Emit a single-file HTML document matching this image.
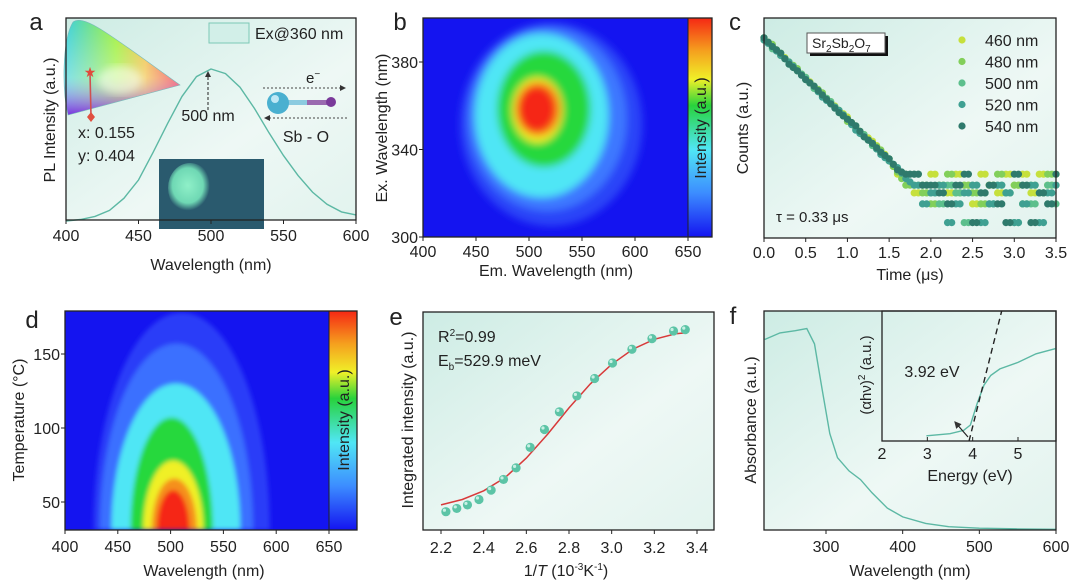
<!DOCTYPE html>
<html><head><meta charset="utf-8">
<style>
html,body{margin:0;padding:0;background:#fff;width:1080px;height:586px;overflow:hidden;}
svg{display:block;font-family:"Liberation Sans",sans-serif;}
text{fill:#222;}
</style></head>
<body>
<svg id="fig" width="1080" height="586" viewBox="0 0 1080 586" xmlns="http://www.w3.org/2000/svg">
<defs>
<linearGradient id="mint" x1="0" y1="0" x2="1" y2="1">
<stop offset="0" stop-color="#cdece4"/><stop offset="0.6" stop-color="#eef8f5"/><stop offset="1" stop-color="#e2f3ee"/>
</linearGradient>
<linearGradient id="jet" x1="0" y1="1" x2="0" y2="0">
<stop offset="0" stop-color="#1414f0"/><stop offset="0.2" stop-color="#3c8cff"/><stop offset="0.4" stop-color="#50e6f5"/><stop offset="0.6" stop-color="#28d23c"/><stop offset="0.72" stop-color="#f0f028"/><stop offset="0.85" stop-color="#f5a01e"/><stop offset="1" stop-color="#f52814"/>
</linearGradient>
<filter id="blur4"><feGaussianBlur stdDeviation="4"/></filter>
<filter id="blur2"><feGaussianBlur stdDeviation="2.5"/></filter>
<linearGradient id="cieg" x1="0" y1="0" x2="1" y2="0">
<stop offset="0" stop-color="#3ad0e0"/><stop offset="0.45" stop-color="#a0f040"/><stop offset="0.7" stop-color="#f0c040"/><stop offset="1" stop-color="#f02040"/>
</linearGradient>
<linearGradient id="ciev" x1="0" y1="0" x2="0" y2="1">
<stop offset="0" stop-color="#ffffff" stop-opacity="0"/><stop offset="0.6" stop-color="#ffffff" stop-opacity="0.35"/><stop offset="1" stop-color="#8020e0" stop-opacity="0.9"/>
</linearGradient>
<radialGradient id="blob" cx="0.45" cy="0.45" r="0.5"><stop offset="0" stop-color="#8ff0c8"/><stop offset="0.7" stop-color="#6fd8b4"/><stop offset="1" stop-color="#6fd8b4" stop-opacity="0"/></radialGradient>
<marker id="arrR" markerWidth="6" markerHeight="6" refX="5" refY="3" orient="auto"><path d="M0,0 L6,3 L0,6 z" fill="#333"/></marker>
</defs>
</svg>
<script>
// ---------- DATA ----------
// panel a
const aWave=[400,410,420,430,440,450,460,470,480,490,500,510,520,530,540,550,560,570,580,590,600];
const aPL=[0.0,0.01,0.03,0.07,0.15,0.27,0.45,0.64,0.82,0.95,1.0,0.97,0.88,0.74,0.58,0.43,0.30,0.19,0.11,0.06,0.04];
const aTicks=[400,450,500,550,600];
// panel b contour bands [emLo, emHi, exLo, exHi]
const bColors=["#2a44f8","#3c78ff","#50e6f5","#28d83c","#f0f028","#f5901e","#f52814"];
const bEmLo=[435,442,449,470,484,487,490];
const bEmHi=[607,592,575,558,532,530,525];
const bExLo=[305,312,318,332,343,346,348];
const bExHi=[398,396,393,385,373,371,369];
const bXTicks=[400,450,500,550,600,650];
const bYTicks=[300,340,380];
// panel c
const cTime=[0,0.1,0.2,0.3,0.4,0.5,0.6,0.7,0.8,0.9,1.0,1.1,1.2,1.3,1.4,1.5,1.6,1.7,1.8,1.9,2.0,2.1,2.2,2.3,2.4,2.5,2.6,2.7,2.8,2.9,3.0,3.1,3.2,3.3,3.4,3.5];
const c460=[91,87,84,80,76,73,69,65,62,58,55,50,47,44,40,36,29,29,20.5,24,29,24,20.5,29,24,15.5,29,24,20.5,29,24,29,20.5,29,24,29];
const c480=[90,88,83,80,77,72,69,66,61,58,53,51,46,43,40,35,30,24,24,20.5,15.5,24,29,20.5,24,20.5,15.5,24,29,20.5,24,15.5,24,20.5,29,24];
const c500=[91,86,84,79,76,73,68,65,62,57,54,50,47,42,39,36,31,29,29,24,20.5,15.5,24,20.5,7,24,20.5,15.5,24,20.5,7,24,15.5,20.5,24,15.5];
const c520=[90,87,83,80,76,72,69,64,61,58,54,49,46,43,38,35,32,27,24,15.5,20.5,24,7,15.5,20.5,24,7,15.5,24,20.5,7,15.5,24,7,20.5,24];
const c540=[91,87,84,79,76,72,69,65,61,57,54,51,46,43,39,36,31,29,29,24,24,20.5,15.5,24,29,7,20.5,24,15.5,7,29,24,7,20.5,15.5,29];
const cLegend=["460 nm","480 nm","500 nm","520 nm","540 nm"];
const cXTicks=[0.0,0.5,1.0,1.5,2.0,2.5,3.0,3.5];
// panel d bands [emLo, emHi, Ttop]
const dColors=["#2a3cf8","#3a70ff","#50e6f5","#28d83c","#f0f028","#f5901e","#f52814"];
const dEmLo=[427,433,444,462,474,482,487];
const dEmHi=[594,578,566,540,531,525,518];
const dTop=[178,157,130,107,78,66,58];
const dXTicks=[400,450,500,550,600,650];
const dYTicks=[50,100,150];
// panel e
const eX=[2.223,2.274,2.324,2.378,2.435,2.493,2.552,2.618,2.685,2.755,2.837,2.920,3.004,3.095,3.189,3.290,3.345];
const eY=[8.4,9.9,11.5,14.0,18.3,23.2,28.5,37.9,46.1,54.2,61.5,69.5,76.6,82.9,87.8,91.3,91.9];
const eFitX=[2.2,2.3,2.4,2.5,2.6,2.7,2.8,2.9,3.0,3.1,3.2,3.3,3.35];
const eFitY=[11.5,14,18,24,33,44,56,67,76,83,87.5,90,90.5];
const eXTicks=[2.2,2.4,2.6,2.8,3.0,3.2,3.4];
// panel f
const fWave=[220,240,260,275,285,295,305,315,330,345,360,380,400,430,460,500,550,600];
const fAbs=[0.87,0.90,0.91,0.92,0.85,0.64,0.44,0.33,0.27,0.23,0.17,0.10,0.06,0.03,0.015,0.008,0.005,0.003];
const fXTicks=[300,400,500,600];
const fE=[2.98,3.5,3.8,3.95,4.1,4.25,4.4,4.6,5.0,5.4,5.84];
const fT=[0.02,0.04,0.07,0.12,0.32,0.49,0.58,0.64,0.70,0.78,0.83];
const fFitE=[3.92,4.64];
const fFitT=[0,1];
const fInTicks=[2,3,4,5];

// ---------- helpers ----------
const svg=document.getElementById('fig');
const NS="http://www.w3.org/2000/svg";
function el(tag,attrs,parent){const e=document.createElementNS(NS,tag);for(const k in attrs)e.setAttribute(k,attrs[k]);(parent||svg).appendChild(e);return e;}
function txt(s,x,y,size,anchor,parent,rot){const t=el('text',{x:x,y:y,'font-size':size,'text-anchor':anchor||'middle'},parent);if(rot)t.setAttribute('transform','rotate(-90 '+x+' '+y+')');t.textContent=s;return t;}
function lin(d0,d1,r0,r1){return v=>r0+(v-d0)*(r1-r0)/(d1-d0);}
function frame(x0,y0,x1,y1,parent){return el('rect',{x:x0,y:y0,width:x1-x0,height:y1-y0,fill:'none',stroke:'#222','stroke-width':1.3},parent);}
function xTicks(ticks,sx,y,labY,fmt,parent){ticks.forEach(t=>{el('line',{x1:sx(t),x2:sx(t),y1:y,y2:y+4,stroke:'#222'},parent);const l=txt(fmt?fmt(t):String(t),sx(t),labY,16,'middle',parent);});}
function yTicks(ticks,sy,x,parent){ticks.forEach(t=>{el('line',{x1:x-4,x2:x,y1:sy(t),y2:sy(t),stroke:'#222'},parent);const l=txt(String(t),x-5,sy(t)+6,16,'end',parent);});}

// ---------- Panel a ----------
(function(){
const g=el('g',{});
const X0=66,X1=356,Y0=18,Y1=220;
el('rect',{x:X0,y:Y0,width:X1-X0,height:Y1-Y0,fill:'url(#mint)'},g);
const sx=lin(400,600,X0,X1), sy=lin(0,1,221,69);
const cie=el('g',{},g);
const cp="M68,115 C62,90 62,40 73,22 C85,14 110,35 180,85 Z";
el('path',{d:cp,fill:'url(#cieg)'},cie);el('path',{d:cp,fill:'url(#ciev)'},cie);
el('ellipse',{cx:120,cy:80,rx:22,ry:14,fill:'#fff',opacity:0.5,filter:'url(#blur4)'},cie);
el('path',{d:cp,fill:'none',stroke:'#7bb','stroke-width':0.6},cie);
el('line',{x1:90,y1:72,x2:91,y2:116,stroke:'#d05050','stroke-width':1.6},cie);
el('path',{d:'M91,112 L95,117 L91,122 L87,117 Z',fill:'#e05040'},cie);
txt('★',90,77,14,'middle',cie).setAttribute('style','fill:#e04a3c');
const ph=el('g',{},g);
el('rect',{x:159,y:159,width:105,height:70,fill:'#2a5a6e'},ph);
el('ellipse',{cx:190,cy:188,rx:22,ry:25,fill:'url(#blob)'},ph);
let d='';aWave.forEach((w,i)=>{d+=(i?'L':'M')+sx(w).toFixed(1)+','+sy(aPL[i]).toFixed(1);});
const c=el('path',{d:d,fill:'none',stroke:'#5cb8a4','stroke-width':1.4},g);

frame(X0,Y0,X1,Y1,g);
xTicks(aTicks,sx,Y1,241,null,g);
const lg=el('rect',{x:209,y:23,width:40,height:20,fill:'#d2efe8',stroke:'#7cc8b6'},g);
const lt=txt('Ex@360 nm',255,39,16,'start',g);
el('line',{x1:208,y1:110,x2:208,y2:72,stroke:'#222','stroke-dasharray':'3,2','marker-end':'url(#arrR)'},g);
txt('500 nm',208,121,16,'middle',g);
txt('x: 0.155',78,138,16,'start',g);
txt('y: 0.404',78,161,16,'start',g);
el('line',{x1:263,y1:88,x2:345,y2:88,stroke:'#444','stroke-dasharray':'2,2','marker-end':'url(#arrR)'},g);
el('line',{x1:347,y1:118,x2:265,y2:118,stroke:'#444','stroke-dasharray':'2,2','marker-end':'url(#arrR)'},g);
el('rect',{x:285,y:100,width:22,height:5,fill:'#8ccbe0'},g);el('rect',{x:307,y:100,width:20,height:5,fill:'#9a6ab0'},g);
el('circle',{cx:278,cy:103,r:11,fill:'#4ab0d0'},g);el('circle',{cx:275,cy:99,r:4,fill:'#bfe8f5'},g);
el('circle',{cx:331,cy:102,r:5,fill:'#7a3a9a'},g);
const e1=txt('e',306,83,15,'start',g);const sup=el('tspan',{dy:-6,'font-size':10},e1);sup.textContent='−';
txt('Sb - O',306,142,16,'middle',g);
txt('a',36,30,24,'middle',g);
txt('PL Intensity (a.u.)',55,120,16,'middle',g,true);
txt('Wavelength (nm)',211,270,16,'middle',g);
})();

// ---------- Panel b ----------
(function(){
const g=el('g',{});
const X0=423,X1=712,Y0=18,Y1=237,CB=688;
const sx=lin(400,650,X0,CB), sy=lin(300,380,Y1,62);
const cl=el('clipPath',{id:'clipb'},g);el('rect',{x:X0,y:Y0,width:CB-X0,height:Y1-Y0},cl);
const hm=el('g',{'clip-path':'url(#clipb)'},g);
el('rect',{x:X0,y:Y0,width:CB-X0,height:Y1-Y0,fill:'#1414f0'},hm);
const inner=el('g',{filter:'url(#blur4)'},hm);
bColors.forEach((col,i)=>{const x0=sx(bEmLo[i]),x1=sx(bEmHi[i]),y0=sy(bExHi[i]),y1=sy(bExLo[i]);
const e=el('ellipse',{cx:(x0+x1)/2,cy:(y0+y1)/2,rx:(x1-x0)/2,ry:(y1-y0)/2,fill:col},inner);
});
const cb=el('rect',{x:CB,y:Y0,width:X1-CB,height:Y1-Y0,fill:'url(#jet)'},g);
frame(X0,Y0,X1,Y1,g);el('line',{x1:CB,x2:CB,y1:Y0,y2:Y1,stroke:'#222'},g);
xTicks(bXTicks,sx,Y1,257,null,g);yTicks(bYTicks,sy,X0,g);
txt('Intensity (a.u.)',706,128,16,'middle',g,true);
txt('b',400,30,24,'middle',g);
txt('Ex. Wavelength (nm)',387,128,16,'middle',g,true);
txt('Em. Wavelength (nm)',556,276,16,'middle',g);
})();

// ---------- Panel c ----------
(function(){
const g=el('g',{});
const X0=764,X1=1056,Y0=18,Y1=238;
el('rect',{x:X0,y:Y0,width:X1-X0,height:Y1-Y0,fill:'url(#mint)'},g);
const sx=lin(0,3.5,X0,X1), sy=lin(0,100,Y1,Y0);
const series=[c460,c480,c500,c520,c540];const cols=['#c6e03c','#82cf5a','#5cbf8c','#3fa092','#2f7a6c'];
series.forEach((s,k)=>{const sg=el('g',{},g);
cTime.forEach((t,i)=>{const p=el('circle',{cx:sx(t),cy:sy(s[i]),r:3.6,fill:cols[k]},sg);
if(i<cTime.length-1){const my=t>=1.8?s[i]:(s[i]+s[i+1])/2;const p2=el('circle',{cx:(sx(t)+sx(cTime[i+1]))/2,cy:sy(my),r:3.6,fill:cols[k]},sg);}
});});
frame(X0,Y0,X1,Y1,g);
xTicks(cXTicks,sx,Y1,258,t=>t.toFixed(1),g);
cLegend.forEach((l,k)=>{const y=40+k*21.5;const d=el('circle',{cx:962,cy:y,r:3.6,fill:cols[k]},g);
const t=txt(l,985,y+6,16,'start',g);});
el('rect',{x:810,y:36,width:78,height:20,fill:'#111'},g);
el('rect',{x:807,y:33,width:78,height:20,fill:'#fff',stroke:'#555'},g);
const sr=txt('',812,48,14,'start',g);
[['Sr',0],['2',1],['Sb',0],['2',1],['O',0],['7',1]].forEach(p=>{const ts=el('tspan',{},sr);ts.textContent=p[0];if(p[1]){ts.setAttribute('font-size',10);ts.setAttribute('dy',4);}else ts.setAttribute('dy',sr.childNodes.length>1?-4:0);});
txt('τ = 0.33 μs',776,222,15,'start',g);
txt('c',735,30,24,'middle',g);
txt('Counts (a.u.)',748,128,16,'middle',g,true);
txt('Time (μs)',910,280,16,'middle',g);
})();

// ---------- Panel d ----------
(function(){
const g=el('g',{});
const X0=65,X1=357,Y0=311,Y1=530,CB=329;
const sx=lin(400,650,X0,CB), sy=lin(50,150,502,354);
const cl=el('clipPath',{id:'clipd'},g);el('rect',{x:X0,y:Y0,width:CB-X0,height:Y1-Y0},cl);
const hm=el('g',{'clip-path':'url(#clipd)'},g);
el('rect',{x:X0,y:Y0,width:CB-X0,height:Y1-Y0,fill:'#1414f0'},hm);
const inner=el('g',{filter:'url(#blur2)'},hm);
dColors.forEach((col,i)=>{const x0=sx(dEmLo[i]),x1=sx(dEmHi[i]),yt=sy(dTop[i]);const rx=(x1-x0)/2,ry=Y1-yt;
const e=el('path',{d:'M'+x0+','+Y1+' A'+rx+','+ry+' 0 0 1 '+x1+','+Y1+' Z',fill:col},inner);
});
const cb=el('rect',{x:CB,y:Y0,width:X1-CB,height:Y1-Y0,fill:'url(#jet)'},g);
frame(X0,Y0,X1,Y1,g);el('line',{x1:CB,x2:CB,y1:Y0,y2:Y1,stroke:'#222'},g);
xTicks(dXTicks,sx,Y1,552,null,g);yTicks(dYTicks,sy,X0,g);
txt('Intensity (a.u.)',349,420,16,'middle',g,true);
txt('d',32,328,24,'middle',g);
txt('Temperature (°C)',24,420,16,'middle',g,true);
txt('Wavelength (nm)',204,576,16,'middle',g);
})();

// ---------- Panel e ----------
(function(){
const g=el('g',{});
const X0=423,X1=714,Y0=312,Y1=530;
el('rect',{x:X0,y:Y0,width:X1-X0,height:Y1-Y0,fill:'url(#mint)'},g);
const sx=lin(2.2,3.4,441,697), sy=lin(0,100,Y1,Y0);
let d='';eFitX.forEach((x,i)=>{d+=(i?'L':'M')+sx(x).toFixed(1)+','+sy(eFitY[i]).toFixed(1);});
const f=el('path',{d:d,fill:'none',stroke:'#d83a3a','stroke-width':1.5},g);
eX.forEach((x,i)=>{const p=el('circle',{cx:sx(x),cy:sy(eY[i]),r:4.6,fill:'#5cc4a6'},g);
el('circle',{cx:sx(x)-1.5,cy:sy(eY[i])-1.5,r:1.6,fill:'#c8f0e4'},g);});
frame(X0,Y0,X1,Y1,g);
xTicks(eXTicks,sx,Y1,553,t=>t.toFixed(1),g);
const r=txt('R',438,342,16,'start',g);const s1=el('tspan',{dy:-6,'font-size':10},r);s1.textContent='2';const s2=el('tspan',{dy:6},r);s2.textContent='=0.99';
const eb=txt('E',438,366,16,'start',g);const s3=el('tspan',{dy:4,'font-size':10},eb);s3.textContent='b';const s4=el('tspan',{dy:-4},eb);s4.textContent='=529.9 meV';
txt('e',396,325,24,'middle',g);
txt('Integrated intensity (a.u.)',413,420,16,'middle',g,true);
const xt=txt('1/',566,576,16,'middle',g);
const it=el('tspan',{'font-style':'italic'},xt);it.textContent='T';const a1=el('tspan',{},xt);a1.textContent=' (10';const a2=el('tspan',{dy:-6,'font-size':10},xt);a2.textContent='-3';const a3=el('tspan',{dy:6},xt);a3.textContent='K';const a4=el('tspan',{dy:-6,'font-size':10},xt);a4.textContent='-1';const a5=el('tspan',{dy:6},xt);a5.textContent=')';
})();

// ---------- Panel f ----------
(function(){
const g=el('g',{});
const X0=764,X1=1056,Y0=311,Y1=530;
el('rect',{x:X0,y:Y0,width:X1-X0,height:Y1-Y0,fill:'url(#mint)'},g);
const sx=lin(300,600,826,1056), sy=lin(0,1,Y1,Y0);
let d='';fWave.forEach((w,i)=>{d+=(i?'L':'M')+Math.max(X0,sx(w)).toFixed(1)+','+sy(fAbs[i]).toFixed(1);});
const c=el('path',{d:d,fill:'none',stroke:'#5cb8a4','stroke-width':1.4},g);
frame(X0,Y0,X1,Y1,g);
xTicks(fXTicks,sx,Y1,552,null,g);
const ig=el('g',{},g);
const IX0=882,IX1=1056,IY0=311,IY1=441;
const ex=lin(2,5,882,1018), ey=lin(0,1,438,330);
let d2='';fE.forEach((e,i)=>{d2+=(i?'L':'M')+ex(e).toFixed(1)+','+ey(fT[i]).toFixed(1);});
const ic=el('path',{d:d2,fill:'none',stroke:'#5cb8a4','stroke-width':1.4},ig);
const fl=el('line',{x1:ex(fFitE[0]),y1:IY1,x2:ex(fFitE[1]),y2:IY0,stroke:'#222','stroke-width':1.4,'stroke-dasharray':'6,4'},ig);
el('rect',{x:IX0,y:IY0,width:IX1-IX0,height:IY1-IY0,fill:'none',stroke:'#222','stroke-width':1.3},ig);
fInTicks.forEach(t=>{el('line',{x1:ex(t),x2:ex(t),y1:IY1,y2:IY1-4,stroke:'#222'},ig);const l=txt(String(t),ex(t),459,16,'middle',ig);});
el('line',{x1:968,y1:437,x2:955,y2:422,stroke:'#222','stroke-width':1.2,'marker-end':'url(#arrR)'},ig);
txt('3.92 eV',932,377,16,'middle',ig);
txt('Energy (eV)',970,481,16,'middle',ig);
const yl=txt('',871,375,15,'middle',ig,true);
const p1=el('tspan',{},yl);p1.textContent='(αhν)';const p2=el('tspan',{dy:-6,'font-size':10},yl);p2.textContent='2';const p3=el('tspan',{dy:6},yl);p3.textContent=' (a.u.)';
txt('f',733,324,24,'middle',g);
txt('Absorbance (a.u.)',756,420,16,'middle',g,true);
txt('Wavelength (nm)',910,576,16,'middle',g);
})();
</script>
</body></html>
